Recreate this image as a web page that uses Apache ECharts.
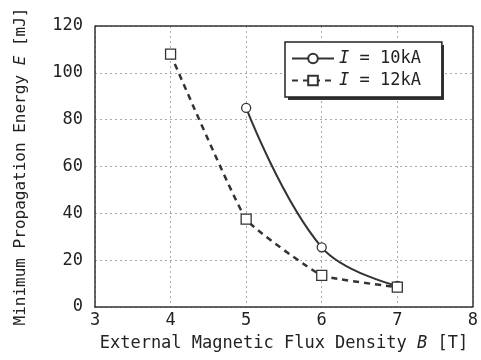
<!DOCTYPE html>
<html>
<head>
<meta charset="utf-8">
<script src="https://cdn.jsdelivr.net/npm/echarts@6/dist/echarts.min.js"></script>
<style>
  html, body { margin: 0; padding: 0; background: #fff; }
  #chart { width: 481px; height: 360px; }
</style>
</head>
<body>
<div id="chart"></div>
<script>
// B [T] vs minimum propagation energy E [mJ]
const current10 = [[5, 85], [6, 25.5], [7, 9]];
const current12 = [[4, 108], [5, 37.5], [6, 13.5], [7, 8.5]];
const seriesNames = ['I10', 'I12'];
const legendText = { I10: '{i|I} = 10kA', I12: '{i|I} = 12kA' };

const FONT = 'DejaVu Sans Mono';
const chart = echarts.init(document.getElementById('chart'));

const option = {
  backgroundColor: '#fff',
  animation: false,
  grid: { left: 95, right: 6, top: 26, bottom: 53 },
  // drop shadow behind the legend box
  graphic: [{
    type: 'rect', left: 288, top: 45, z: 1, silent: true,
    shape: { width: 156, height: 55 },
    style: { fill: '#333' }
  }],
  legend: {
    data: seriesNames,
    orient: 'vertical',
    left: 285, top: 42, z: 10,
    itemWidth: 42, itemHeight: 12, itemGap: 5,
    padding: [8, 21, 8, 6],
    backgroundColor: '#fff',
    borderColor: '#222', borderWidth: 1.5, borderRadius: 0,
    formatter: name => legendText[name],
    textStyle: {
      fontFamily: FONT, fontSize: 17, color: '#222',
      rich: { i: { fontFamily: FONT, fontSize: 17, fontStyle: 'italic', color: '#222' } }
    }
  },
  xAxis: {
    type: 'value', min: 3, max: 8, interval: 1,
    name: 'External Magnetic Flux Density {i|B} [T]',
    nameLocation: 'middle', nameGap: 28,
    nameTextStyle: {
      fontFamily: FONT, fontSize: 17, color: '#222',
      rich: { i: { fontFamily: FONT, fontSize: 17, fontStyle: 'italic', color: '#222' } }
    },
    axisLine: { lineStyle: { color: '#333', width: 1.5 } },
    axisTick: { show: false },
    axisLabel: { fontFamily: FONT, fontSize: 17, color: '#222', margin: 5 },
    splitLine: { show: true, lineStyle: { color: '#aaa', type: [2, 3], width: 1 } }
  },
  yAxis: {
    type: 'value', min: 0, max: 120, interval: 20,
    name: 'Minimum Propagation Energy {i|E} [mJ]',
    nameLocation: 'middle', nameGap: 66,
    nameTextStyle: {
      fontFamily: FONT, fontSize: 16, color: '#222',
      rich: { i: { fontFamily: FONT, fontSize: 16, fontStyle: 'italic', color: '#222' } }
    },
    axisLine: { lineStyle: { color: '#333', width: 1.5 } },
    axisTick: { show: false },
    axisLabel: { fontFamily: FONT, fontSize: 17, color: '#222', margin: 12 },
    splitLine: { show: true, lineStyle: { color: '#aaa', type: [2, 3], width: 1 } }
  },
  series: [
    {
      name: 'I10', type: 'line', data: current10, smooth: 0.4,
      symbol: 'circle', symbolSize: 9,
      lineStyle: { color: '#333', width: 2 },
      itemStyle: { color: '#fff', borderColor: '#333', borderWidth: 1.3 }
    },
    {
      name: 'I12', type: 'line', data: current12, smooth: 0.12,
      symbol: 'rect', symbolSize: 10,
      lineStyle: { color: '#333', width: 2.5, type: [6, 5] },
      itemStyle: { color: '#fff', borderColor: '#333', borderWidth: 1.3 }
    },
    {
      // frame on top and right
      type: 'line', data: [], silent: true,
      markLine: {
        symbol: 'none', silent: true, label: { show: false },
        lineStyle: { color: '#333', width: 1.5, type: 'solid' },
        data: [{ yAxis: 120 }, { xAxis: 8 }]
      }
    }
  ]
};

chart.setOption(option);
</script>
</body>
</html>
